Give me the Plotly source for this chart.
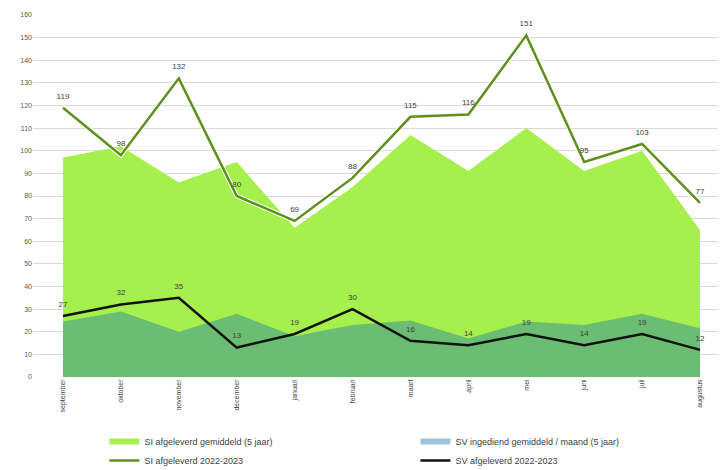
import plotly.graph_objects as go

months = ["september", "oktober", "november", "december", "januari", "februari",
          "maart", "april", "mei", "juni", "juli", "augustus"]
si_avg = [97, 102, 86, 95, 66, 84, 107, 91, 110, 91, 100, 65]
sv_avg = [24.5, 29, 20, 28, 18, 23, 25, 17, 24.5, 23, 28, 21.5]
si_2223 = [119, 98, 132, 80, 69, 88, 115, 116, 151, 95, 103, 77]
sv_2223 = [27, 32, 35, 13, 19, 30, 16, 14, 19, 14, 19, 12]
y_ticks = list(range(0, 161, 10))

x = list(range(len(months)))
lbl_font = dict(family="Liberation Sans, Arial", size=8, color="#404040")
ghost = dict(size=10, color="rgba(0,0,0,0)")

fig = go.Figure()
fig.add_trace(go.Scatter(x=x, y=si_avg, mode="none", fill="tozeroy",
                         fillcolor="#a6f04e", name="SI afgeleverd gemiddeld (5 jaar)",
                         legendrank=1, hoverinfo="skip"))
fig.add_trace(go.Scatter(x=x, y=sv_avg, mode="none", fill="tozeroy",
                         fillcolor="#6abd72", showlegend=False, hoverinfo="skip"))
fig.add_trace(go.Scatter(x=[None], y=[None], mode="none", fill="tozeroy",
                         fillcolor="#9dc3e0", name="SV ingediend gemiddeld / maand (5 jaar)",
                         legendrank=2))
fig.add_trace(go.Scatter(x=x, y=si_2223, mode="lines", line=dict(color="white", width=4.5),
                         showlegend=False, hoverinfo="skip"))
fig.add_trace(go.Scatter(x=x, y=si_2223, mode="lines+markers+text", marker=ghost,
                         text=[str(v) for v in si_2223],
                         textposition="top center", textfont=lbl_font,
                         line=dict(color="#5f8f1e", width=2.5),
                         name="SI afgeleverd 2022-2023", legendrank=3))
fig.add_trace(go.Scatter(x=x, y=sv_2223, mode="lines+markers+text", marker=ghost,
                         text=[str(v) for v in sv_2223],
                         textposition="top center", textfont=lbl_font,
                         line=dict(color="#111111", width=2.5),
                         name="SV afgeleverd 2022-2023", legendrank=4))

fig.update_layout(
    width=718, height=462,
    margin=dict(l=25, r=6, t=7, b=93, autoexpand=False),
    paper_bgcolor="white", plot_bgcolor="white",
    font=dict(family="Liberation Sans, Arial", color="#595959"),
    xaxis=dict(range=[-0.518, 11.345], tickmode="array", tickvals=x, ticktext=months,
               tickangle=-90, tickfont=dict(size=7, color="#404040"), automargin=False,
               showgrid=False, zeroline=False, showline=False, ticks=""),
    yaxis=dict(range=[0, 160], tickmode="array", tickvals=y_ticks, automargin=False,
               tickfont=dict(size=7, color="#595959"),
               showgrid=True, gridcolor="#d9d9d9", gridwidth=1, zeroline=False,
               showline=False, ticks="", layer="below traces"),
    legend=dict(orientation="h", x=0.104, xanchor="left", y=-0.138, yanchor="top",
                entrywidth=266, entrywidthmode="pixels", traceorder="normal",
                font=dict(size=9, color="#404040"),
                bgcolor="rgba(0,0,0,0)"),
    showlegend=True,
)

fig.write_html("out.html")
